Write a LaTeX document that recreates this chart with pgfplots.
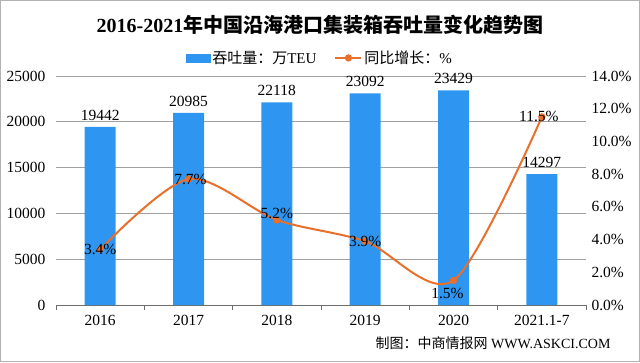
\documentclass[border=0pt]{standalone}
\usepackage{fontspec}
\setmainfont{Liberation Serif}
\newfontfamily\cjk{Noto Sans CJK SC}
\usepackage{pgfplots}
\usepackage{pgfplotstable}
\pgfplotsset{compat=1.18}
\definecolor{barblue}{RGB}{46,150,240}
\definecolor{lineorange}{RGB}{232,112,42}
\definecolor{gridgray}{RGB}{160,160,160}
\definecolor{axgray}{RGB}{110,110,110}

\pgfplotstableread{
x y
0 19442
1 20985
2 22118
3 23092
4 23429
5 14297
}\bars

\pgfplotstableread{
x y dx dy
0 3.4 0 0
1 7.7 2 0
2 5.2 0 6
3 3.9 0 0
4 1.5 -6 -13
5 11.5 -3 0
}\growth

\begin{document}
\begin{tikzpicture}
\path[use as bounding box] (0,0) rectangle (640pt,362pt);
\draw[gray!60, line width=1pt] (0.5pt,0.5pt) rectangle (639.5pt,361.5pt);

\begin{axis}[
  at={(56pt,57pt)}, anchor=south west,
  scale only axis, width=530pt, height=229pt,
  xmin=-0.5, xmax=5.5, ymin=0, ymax=25000,
  axis x line*=bottom, axis y line*=left,
  y axis line style={draw=none},
  x axis line style={draw=axgray, line width=0.8pt},
  xtick={-0.5,0.5,...,5.5},
  x tick label as interval,
  xticklabels={2016,2017,2018,2019,2020,2021.1-7},
  xtick style={draw=axgray, line width=0.8pt},
  tick align=outside, major tick length=5pt,
  ytick={0,5000,...,25000},
  scaled y ticks=false,
  ytick style={draw=none},
  ymajorgrids, grid style={gridgray, line width=0.8pt},
  /pgf/number format/.cd, set thousands separator={}, assume math mode=true, /pgfplots/.cd,
  tick label style={font=\fontsize{15.5}{18}\selectfont, black},
  yticklabel style={xshift=-2pt},
  xticklabel style={yshift=-2pt},
]
\addplot[ybar, bar width=31pt, fill=barblue, draw=none,
  nodes near coords,
  every node near coord/.append style={font=\fontsize{15.5}{18}\selectfont, black, yshift=3pt}]
  table[x=x,y=y] {\bars};
\end{axis}

\begin{axis}[
  at={(56pt,57pt)}, anchor=south west,
  scale only axis, width=530pt, height=229pt,
  xmin=-0.5, xmax=5.5, ymin=0, ymax=14,
  axis x line=none, axis y line*=right,
  y axis line style={draw=none},
  ytick={0,2,...,14}, ytick style={draw=none},
  yticklabel={\pgfmathprintnumber[fixed,fixed zerofill,precision=1,assume math mode=true]{\tick}\%},
  yticklabel style={font=\fontsize{15.5}{18}\selectfont, black, xshift=2pt},
  legend style={at={(0.498,1.079)}, anchor=center, draw=none, fill=none,
    font=\fontsize{15}{18}\selectfont, legend columns=2,
    /tikz/every even column/.append style={column sep=16pt}},
  legend cell align=left,
]
\addlegendimage{legend image code/.code={\fill[barblue] (0pt,-4pt) rectangle (24pt,4pt);}}
\addlegendentry{{\cjk 吞吐量：万}TEU}
\addplot[smooth, lineorange, line width=2pt, mark=*, mark size=2.6pt,
  mark options={fill=lineorange, draw=lineorange},
  nodes near coords={\pgfmathprintnumber[fixed,fixed zerofill,precision=1,assume math mode=true]{\pgfplotspointmeta}\%},
  point meta=explicit,
  visualization depends on={\thisrow{dx} \as \dx},
  visualization depends on={\thisrow{dy} \as \dy},
  every node near coord/.append style={anchor=center, font=\fontsize{15.5}{18}\selectfont, black,
    xshift=\dx pt, yshift=\dy pt},
  legend image code/.code={\draw[lineorange, line width=2pt] (0pt,0pt) -- (26pt,0pt);
    \fill[lineorange] (13pt,0pt) circle (2.6pt);}]
  table[x=x, y=y, meta=y] {\growth};
\addlegendentry{{\cjk 同比增长：}\%}
\end{axis}

\node[font=\cjk\bfseries\fontsize{20}{24}\selectfont] at (320pt,337pt) {{\rmfamily\bfseries 2016-2021}年中国沿海港口集装箱吞吐量变化趋势图};
\node[anchor=east, font=\fontsize{14}{17}\selectfont] at (614pt,19pt) {{\cjk 制图：中商情报网} WWW.ASKCI.COM};
\end{tikzpicture}
\end{document}
